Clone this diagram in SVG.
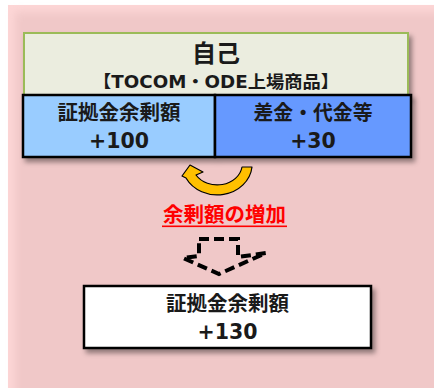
<svg xmlns="http://www.w3.org/2000/svg" width="434" height="388" viewBox="0 0 434 388">
<defs>
<filter id="blur" x="-5%" y="-5%" width="110%" height="110%"><feGaussianBlur stdDeviation="4"/></filter>
<filter id="sh" x="-10%" y="-10%" width="125%" height="135%"><feDropShadow dx="3" dy="4" stdDeviation="2.5" flood-color="#000" flood-opacity="0.4"/></filter>
<style>
text{font-family:"Noto Sans CJK JP","Noto Sans",sans-serif;font-weight:bold;text-anchor:middle;fill:#1a1a1a}
.lat{font-family:"DejaVu Sans","Noto Sans CJK JP",sans-serif}
.box{stroke:#000;stroke-width:2.5}
</style>
</defs>
<rect x="8" y="5" width="426" height="383" fill="#fdd6d6"/>
<rect x="15" y="12" width="430" height="390" fill="#f0c8c8" filter="url(#blur)"/>
<g id="top" filter="url(#sh)">
<rect x="24" y="33" width="384" height="64" fill="#ebeddf" stroke="#9bbb59" stroke-width="2"/>
</g>
<g id="top-text">
<text x="216" y="62" font-size="24">自己</text>
<text class="lat" x="216" y="88" font-size="17" textLength="246" lengthAdjust="spacingAndGlyphs">【TOCOM・ODE上場商品】</text>
</g>
<g id="cells" filter="url(#sh)">
<rect class="box" x="23" y="95" width="192" height="62" fill="#99ccff"/>
<rect class="box" x="215" y="95" width="196" height="62" fill="#6699ff"/>
</g>
<g id="left-cell">
<text x="119" y="120" font-size="20.5">証拠金余剰額</text>
<text class="lat" x="119" y="148" font-size="20.5">+100</text>
</g>
<g id="right-cell">
<text x="313" y="120" font-size="20.5" textLength="119" lengthAdjust="spacingAndGlyphs">差金・代金等</text>
<text class="lat" x="313" y="148" font-size="20.5">+30</text>
</g>
<g id="connectors">
<path d="M252 167 A35 31 0 0 1 186 178 L182 176 L190 165 L203 172 L196 175 A25 21 0 0 0 242 167 Z" fill="#ffc000" stroke="#000" stroke-width="1.2" stroke-linejoin="round"/>
<path d="M199 239 L238 239 L238 257 L266 253 L219 274 L183 258 L199 256 Z" fill="none" stroke="#000" stroke-width="4" stroke-dasharray="10 5"/>
</g>
<g id="label">
<text x="224.5" y="222" font-size="20.5" style="fill:#ff0000">余剰額の増加</text>
<rect x="162" y="225.5" width="125" height="1.6" fill="#ff0000"/>
</g>
<g id="result" filter="url(#sh)">
<rect class="box" x="84" y="286" width="287" height="62" fill="#ffffff"/>
</g>
<g id="result-text">
<text x="227.5" y="311" font-size="20.5">証拠金余剰額</text>
<text class="lat" x="227.5" y="339" font-size="20.5">+130</text>
</g>
</svg>
